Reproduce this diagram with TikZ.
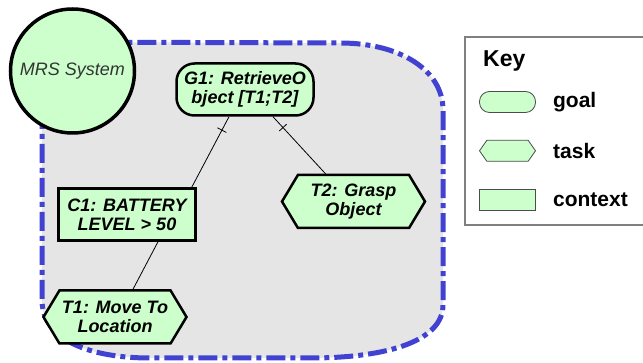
\documentclass[tikz,border=0pt]{standalone}
\usepackage{fontspec}
\setmainfont{Liberation Sans}
\usepackage{xcolor}
\usepackage{tikz}
\usetikzlibrary{shapes,shapes.symbols,positioning,calc}
\definecolor{gsngreen}{HTML}{CCFFCC}
\definecolor{scopeblue}{HTML}{4141D2}
\definecolor{scopegray}{HTML}{E5E5E5}
\tikzstyle{goalbox} = [rectangle, draw, line width=2.5pt, fill=gsngreen, rounded corners=18pt, minimum width=137pt, minimum height=52pt, inner sep=1pt, align=center, font=\fontsize{18}{19}\selectfont\bfseries\itshape]
\tikzstyle{contextbox} = [rectangle, draw, line width=2.5pt, fill=gsngreen, minimum width=137pt, minimum height=52pt, inner sep=1pt, align=center, font=\fontsize{18}{19}\selectfont\bfseries\itshape]
\tikzstyle{taskbox} = [signal, signal to=west and east, signal pointer angle=118, draw, line width=2.5pt, fill=gsngreen, minimum width=143pt, minimum height=53pt, inner sep=1pt, align=center, font=\fontsize{18}{19}\selectfont\bfseries\itshape]
\tikzstyle{keyshape} = [draw=black!70, line width=0.8pt, fill=gsngreen, minimum width=56pt, minimum height=21pt, inner sep=0pt]
\tikzstyle{keylabel} = [inner sep=0pt, font=\fontsize{21}{24}\selectfont\bfseries]
\tikzstyle{link} = [line width=0.8pt]
\tikzstyle{tickmark} = [sloped, draw, line width=0.8pt, inner sep=0pt, minimum width=0pt, minimum height=10pt]

\begin{document}
\begin{tikzpicture}[x=1pt, y=-1pt]
    \useasboundingbox (0,0) rectangle (643,363);

    % System boundary
    \draw[scopeblue, fill=scopegray, line width=5pt, dash pattern=on 19pt off 5pt on 5pt off 5pt]
        (42,42) -- (42,300) .. controls (42,340) and (90,358) .. (150,358)
        -- (310,358) .. controls (390,358) and (443,340) .. (443,305)
        -- (443,110) .. controls (443,70) and (400,43) .. (340,43) -- cycle;

    % MRS system
    \node[circle, draw, line width=3.5pt, fill=gsngreen, minimum size=124pt, text=black!80, font=\fontsize{18}{20}\selectfont\itshape] (mrs) at (72.5,71) {MRS System};

    % Goal structure
    \node[goalbox] (g1) at (245,89.5) {G1: RetrieveO\\bject [T1;T2]};
    \node[contextbox] (c1) at (127,214.5) {C1: BATTERY\\LEVEL > 50};
    \node[taskbox] (t2) at (353.5,201.5) {T2: Grasp\\Object};
    \node[taskbox] (t1) at (115,317) {T1: Move To\\Location};

    % Key (open to the right edge)
    \fill[white] (465,37) rectangle (643,225);
    \draw[black!50, line width=1.5pt] (643,37) -- (465,37) -- (465,225) -- (643,225);
    \node[keylabel, anchor=west, font=\fontsize{23}{26}\selectfont\bfseries] (keytitle) at (483,61) {Key};
    \node[keyshape, rounded corners=10pt] (kgoal) at (507.5,102) {};
    \node[keyshape, signal, signal to=west and east, signal pointer angle=110, below=27pt of kgoal] (ktask) {};
    \node[keyshape, rectangle, below=27pt of ktask] (kcontext) {};
    \node[keylabel, right=17pt of kgoal] (lgoal) {goal};
    \node[keylabel, right=17pt of ktask] (ltask) {task};
    \node[keylabel, right=17pt of kcontext] (lcontext) {context};

    % Links
    \draw[link] ([xshift=-16pt]g1.south) -- node[tickmark, pos=0.19] {} ([xshift=-5pt]c1.north east);
    \draw[link] ([xshift=28pt]g1.south) -- node[tickmark, pos=0.19] {} ([xshift=-28pt]t2.north);
    \draw[link] ([xshift=31pt]c1.south) -- ([xshift=18pt]t1.north);
\end{tikzpicture}
\end{document}
